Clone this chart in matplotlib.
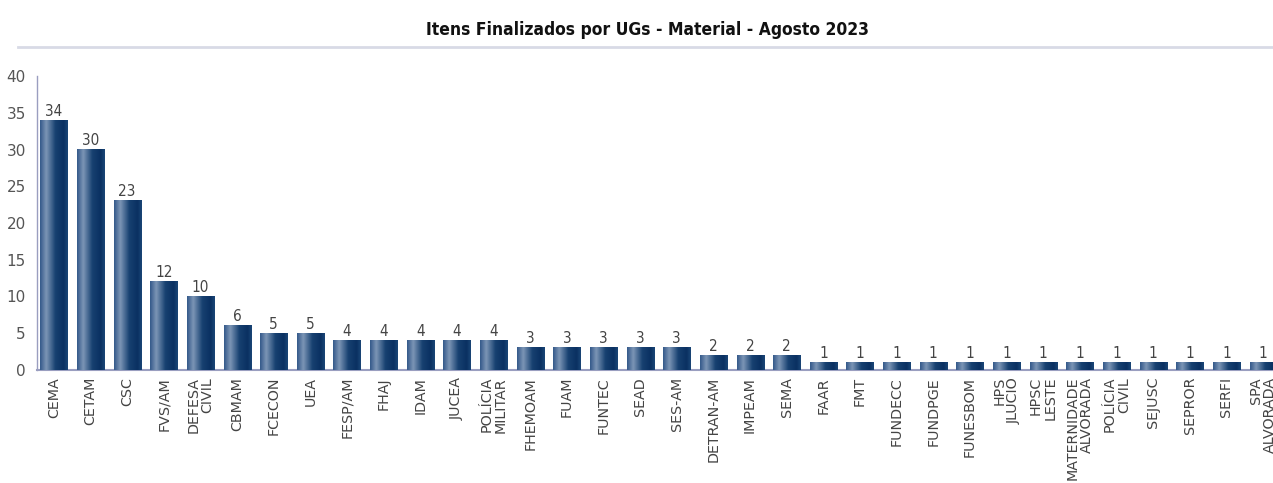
import matplotlib
matplotlib.use("Agg")
import matplotlib.pyplot as plt
import numpy as np
from matplotlib.colors import LinearSegmentedColormap
from matplotlib.lines import Line2D

categories = ["CEMA", "CETAM", "CSC", "FVS/AM", "DEFESA\nCIVIL", "CBMAM", "FCECON", "UEA",
              "FESP/AM", "FHAJ", "IDAM", "JUCEA", "POLÍCIA\nMILITAR", "FHEMOAM", "FUAM",
              "FUNTEC", "SEAD", "SES-AM", "DETRAN-AM", "IMPEAM", "SEMA", "FAAR", "FMT",
              "FUNDECC", "FUNDPGE", "FUNESBOM", "HPS\nJLUCIO", "HPSC\nLESTE",
              "MATERNIDADE\nALVORADA", "POLÍCIA\nCIVIL", "SEJUSC", "SEPROR", "SERFI",
              "SPA\nALVORADA"]
values = [34, 30, 23, 12, 10, 6, 5, 5, 4, 4, 4, 4, 4, 3, 3, 3, 3, 3, 2, 2, 2,
          1, 1, 1, 1, 1, 1, 1, 1, 1, 1, 1, 1, 1]
yticks = [0, 5, 10, 15, 20, 25, 30, 35, 40]
title = "Itens Finalizados por UGs - Material - Agosto 2023"

plt.rcParams['font.family'] = ['DejaVu Sans']
fig = plt.figure(figsize=(12.73, 4.83), dpi=100)
ax = fig.add_axes([37/1273, 113/483, 1 - 37/1273, 294/483])

cmap = LinearSegmentedColormap.from_list("bar", [
    (0.0, "#34598a"), (0.22, "#7d96b6"), (0.55, "#174171"),
    (0.85, "#0a3061"), (1.0, "#1a4677")])
grad = np.linspace(0, 1, 64).reshape(1, -1)

x = np.arange(len(categories))
w = 0.74
bars = ax.bar(x, values, width=w, color="#0d3566", zorder=2)
for xi, v in zip(x, values):
    ax.imshow(grad, cmap=cmap, extent=[xi - w/2, xi + w/2, 0, v],
              aspect='auto', zorder=3, interpolation='bicubic')
    ax.text(xi, v + 0.2, str(v), ha='center', va='bottom', fontsize=11,
            color="#444444", fontstretch='condensed', zorder=4)

ax.set_xlim(-0.46, 33.27)
ax.set_ylim(0, 40)
ax.set_yticks(yticks)
ax.set_xticks(x)
ax.set_xticklabels(categories, rotation=90, ha='center', va='top',
                   multialignment='right', fontsize=10.3, color="#444444",
                   linespacing=1.05)
ax.tick_params(axis='x', length=0, pad=5)
ax.tick_params(axis='y', length=0, pad=8, labelsize=11, labelcolor="#555555")
for s in ['top', 'right']:
    ax.spines[s].set_visible(False)
ax.spines['left'].set_color("#9a9ec0")
ax.spines['bottom'].set_color("#9a9ec0")
ax.spines['bottom'].set_linewidth(1.5)
ax.spines['left'].set_linewidth(1.0)

fig.text(648/1273, 1 - 30/483, title, ha='center', va='center', fontsize=12.5,
         color="#111111", fontweight='semibold', fontstretch='condensed')
fig.add_artist(Line2D([18/1273, 1.0], [1 - 47/483, 1 - 47/483],
                      color="#d8dae6", linewidth=2.0, transform=fig.transFigure))

fig.savefig("out.png", dpi=100)
